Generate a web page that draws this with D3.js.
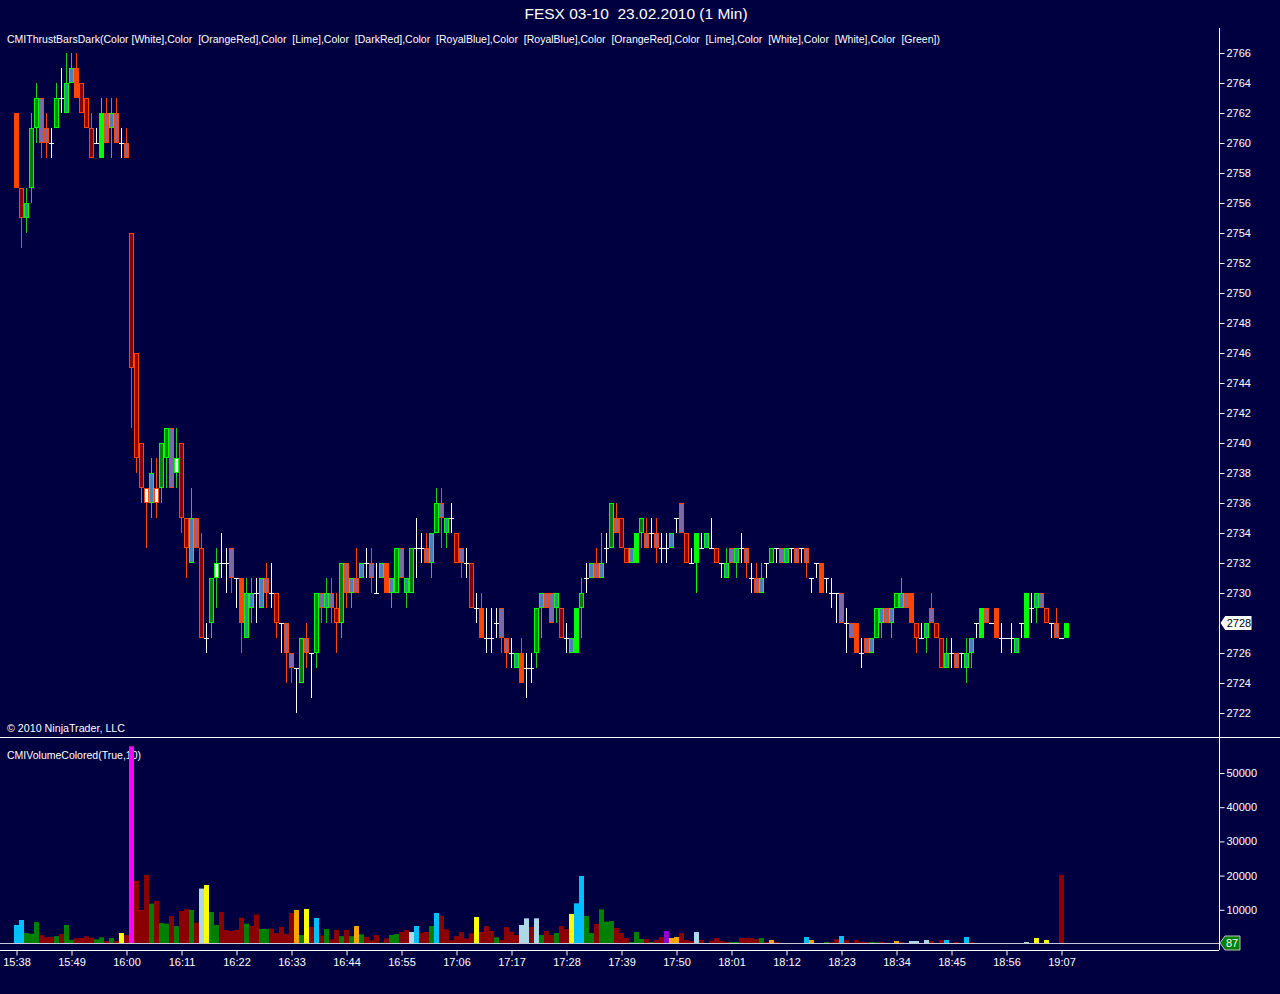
<!DOCTYPE html>
<html><head><meta charset="utf-8">
<script src="https://cdn.jsdelivr.net/npm/d3@7"></script>
<style>
html,body{margin:0;padding:0;background:#000040;}
svg{display:block;}
text{font-family:"Liberation Sans",Arial,sans-serif;}
</style></head><body>
<svg id="c" width="1280" height="994"></svg>
<script>
// ---- DATA (1-minute bars, FESX 03-10, 23.02.2010, starting 15:38) ----
const opens  = [2762,2757,2755,2757,2761,2763,2761,2760,2761,2763,2762,2764,2765,2764,2763,2761,2760,2759,2762,2761,2762,2760,2760,
2754,2746,2740,2737,2736,2737,2737,2739,2741,2738,2740,2735,2732,2735,2733,2727,2728,2731,2732,2732,2733,2731,2731,2727,2729,2730,2729,2731,2730,2730,2728,2728,2726,2725,2724,2727,2726,2726,
2730,2729,2730,2729,2728,2732,2730,2731,2731,2732,2732,2730,2731,2732,2730,2730,2733,2730,2730,2733,2733,2733,2732,2734,2736,2734,2735,2734,2733,2732,2732,2729,2729,2727,2727,2728,2729,2727,2726,2725,
2726,2725,2725,2726,2729,2730,2730,2729,2729,2727,2726,2726,2729,2731,2731,2732,2731,2733,2733,2735,2735,2733,2732,2732,2734,2734,2734,2734,2733,2733,2733,2735,2736,2734,2732,2732,2733,2733,2733,2733,
2732,2731,2733,2732,2733,2733,2731,2731,2730,2732,2732,2733,2733,2732,2733,2733,2733,2733,2731,2732,2732,2731,2730,2730,2730,2728,2728,2728,2726,2727,2726,2727,2728,2729,2728,2729,2729,2730,2730,2728,
2727,2727,2729,2728,2727,2725,2726,2726,2726,2725,2726,2728,2727,2729,2728,2729,2727,2727,2727,2726,2728,2727,2729,2729,2730,2729,2728,2728,2727,2727];
const highs  = [2762,2757,2757,2762,2764,2763,2762,2761,2764,2765,2766,2766,2766,2764,2763,2762,2761,2763,2763,2763,2763,2761,2761,
2754,2746,2740,2737,2739,2739,2740,2741,2741,2741,2740,2735,2737,2735,2734,2728,2731,2733,2734,2733,2733,2731,2731,2731,2731,2731,2731,2732,2732,2730,2728,2728,2726,2725,2727,2728,2726,2730,
2730,2731,2731,2730,2732,2732,2731,2733,2732,2733,2733,2732,2732,2732,2731,2733,2733,2731,2733,2735,2734,2734,2734,2737,2737,2735,2736,2734,2733,2733,2732,2730,2730,2729,2729,2729,2729,2727,2727,2726,
2727,2726,2726,2729,2730,2730,2730,2730,2729,2728,2727,2729,2731,2732,2732,2733,2734,2734,2736,2736,2735,2733,2733,2734,2735,2735,2735,2735,2734,2734,2734,2735,2736,2734,2733,2734,2734,2734,2735,2733,
2732,2733,2733,2733,2734,2733,2732,2732,2732,2732,2733,2733,2733,2733,2733,2733,2733,2733,2731,2732,2732,2731,2731,2730,2730,2729,2728,2728,2727,2727,2727,2729,2729,2729,2729,2730,2731,2730,2730,2728,
2728,2728,2730,2728,2727,2727,2727,2726,2726,2727,2727,2728,2729,2729,2728,2729,2728,2727,2728,2727,2728,2730,2730,2730,2730,2729,2728,2729,2727,2728];
const lows   = [2757,2753,2754,2756,2760,2759,2759,2759,2761,2762,2762,2764,2763,2762,2761,2759,2760,2759,2760,2759,2760,2759,2759,
2741,2738,2736,2733,2735,2735,2736,2737,2737,2737,2734,2731,2732,2733,2727,2726,2727,2729,2731,2730,2730,2729,2726,2727,2728,2728,2729,2729,2729,2727,2726,2724,2724,2722,2724,2725,2723,2725,
2728,2728,2728,2726,2727,2729,2729,2730,2731,2731,2730,2730,2731,2730,2729,2730,2731,2729,2730,2731,2732,2732,2731,2734,2733,2733,2734,2732,2731,2731,2729,2728,2727,2726,2726,2727,2726,2725,2725,2725,
2724,2723,2724,2725,2727,2729,2728,2728,2727,2726,2726,2726,2727,2730,2731,2731,2731,2732,2733,2734,2733,2732,2732,2732,2733,2733,2733,2732,2732,2732,2733,2734,2734,2732,2732,2730,2733,2733,2733,2732,
2731,2731,2732,2731,2732,2731,2730,2730,2730,2731,2732,2732,2732,2732,2732,2732,2732,2731,2730,2731,2730,2730,2729,2728,2728,2726,2727,2726,2725,2726,2726,2727,2727,2728,2727,2729,2729,2729,2728,2726,
2727,2726,2728,2727,2725,2725,2725,2725,2725,2724,2725,2727,2727,2728,2728,2727,2726,2727,2726,2726,2727,2727,2728,2728,2729,2728,2727,2727,2727,2727];
const closes = [2757,2755,2756,2761,2763,2760,2760,2760,2763,2763,2764,2765,2763,2762,2761,2759,2760,2762,2760,2762,2760,2760,2759,
2745,2739,2737,2736,2738,2736,2740,2741,2737,2739,2735,2733,2735,2733,2727,2727,2731,2732,2732,2732,2731,2731,2728,2730,2730,2730,2731,2730,2730,2728,2728,2726,2725,2725,2727,2726,2726,2730,
2729,2730,2729,2728,2732,2730,2731,2730,2732,2732,2731,2730,2732,2730,2731,2733,2731,2731,2733,2733,2733,2732,2734,2736,2735,2735,2735,2732,2732,2732,2729,2729,2727,2727,2727,2728,2727,2726,2726,2726,
2724,2725,2725,2729,2730,2729,2728,2730,2727,2727,2727,2729,2730,2731,2732,2731,2732,2733,2736,2734,2733,2732,2733,2734,2735,2733,2734,2733,2733,2733,2734,2735,2734,2732,2732,2734,2733,2734,2733,2732,
2732,2732,2732,2733,2733,2732,2731,2730,2731,2732,2733,2733,2732,2733,2733,2732,2733,2732,2731,2732,2730,2731,2730,2730,2728,2728,2727,2726,2726,2726,2727,2729,2729,2728,2729,2730,2730,2729,2728,2727,
2727,2728,2728,2727,2725,2726,2726,2725,2726,2726,2727,2728,2729,2728,2728,2727,2727,2727,2727,2727,2728,2730,2729,2730,2729,2728,2728,2727,2727,2728];
// bar classes of the thrust-bar study (10 per group): D down-thrust, d down, p down-inside, W down-white,
// U up-thrust, u up, b up-inside, w up-white, x doji
const barKinds = [
 "Ddbuuppxux","bbDdddxUpb","pxpdddWbWu","upwddbpdxu","wxxpxDbbxb","pxdxppxupx",
 "upbpdupbpb","xpxbDbupbu","xxpbupbxdp","xdxDxxxppx","bDxxubppbd","xbUuxbpbxu",
 "pddbUupxpx","xbxpdxUxbx","dxbpbxpxpb","xuxpbxpxpx","xDxxxpxpDx","pbubpbubpD",
 "dxbpddbxpx","bbxUpxDxxx","bxUxbpdxpx","U"].join("").split("");
const volumes = [5560,7020,3200,3000,6400,2600,2000,2000,2300,2900,5560,1200,1650,1750,2250,1850,1350,1950,900,1750,900,3200,2600,
57800,18500,9950,20200,11800,12600,6150,5950,8200,5250,9650,10150,9950,6250,16200,17250,9350,5560,9350,4100,3800,4100,7700,5950,5250,8600,4400,4400,4500,3200,5000,3000,9050,9950,2600,10250,5000,7600,
2500,4400,1350,4100,2300,4100,2300,5250,2800,2050,1070,2630,400,1650,2630,2900,3500,4100,3500,5260,3300,3500,5260,9070,8200,4300,1070,2340,3500,1650,3100,7900,3500,5260,3800,1950,1170,4970,3600,2630,
5560,7500,4970,7500,2630,3800,2630,3200,5260,4400,8780,11900,19900,8200,3200,5850,10140,6530,6730,4680,3200,1750,590,3500,1460,1460,590,1170,2050,3800,1750,2050,3200,1170,880,3500,1170,300,975,1750,
880,680,590,590,1750,1750,1750,1360,1750,590,1170,590,200,300,200,200,300,2050,1170,300,300,590,490,1360,2340,1170,390,1170,680,590,590,490,680,390,300,880,590,300,880,880,
300,1170,880,300,1170,1170,300,590,300,2050,590,300,300,200,200,200,200,100,100,100,100,590,200,1750,200,1170,300,100,20200,87];
// volume colour classes (10 per group): r dark red, g green, s deep sky blue, l light blue, y yellow, o orange, m magenta, v violet
const volumeKinds = [
 "ssgggrrrgr","ggrrrrggrg","ryrmrrrgrg","grgrrgrlyg","grrrrrgrrg","grrrrrogyr",
 "srgrrgrgog","rrrgrggrrl","srrgsrrrrr","rryrrrgrrr","rllrlgrrgr","ryssggrggg",
 "rrrgggrgrr","voorrrlrrr","rrrggrrrrg","rorrgrrrso","rrgrrsrrrr","rggrrrorrl",
 "lrlrrrsrrg","srggrrrrrr","rrlryryrrr","g"].join("").split("");
const timeLabels = ["15:38","15:49","16:00","16:11","16:22","16:33","16:44","16:55","17:06","17:17","17:28","17:39","17:50","18:01","18:12","18:23","18:34","18:45","18:56","19:07"];
const priceTicks = d3.range(2722, 2767, 2);
const volumeTicks = [10000,20000,30000,40000,50000];
const titleText = "FESX 03-10  23.02.2010 (1 Min)";
const studyText = "CMIThrustBarsDark(Color [White],Color  [OrangeRed],Color  [Lime],Color  [DarkRed],Color  [RoyalBlue],Color  [RoyalBlue],Color  [OrangeRed],Color  [Lime],Color  [White],Color  [White],Color  [Green])";

// ---- STYLE ----
const BG = "#000040";
const kindStyle = {
  D:{fill:"#ff4500",stroke:"#ff4500",wick:"#ff4500"},
  d:{fill:"#8b0000",stroke:"#ff4500",wick:"#ff4500"},
  p:{fill:"#7c6aa8",stroke:"#ff4500",wick:"#ff4500"},
  W:{fill:"#ffffff",stroke:"#ff4500",wick:"#ff4500"},
  U:{fill:"#00ff00",stroke:"#00ff00",wick:"#00ff00"},
  u:{fill:"#008000",stroke:"#00ff00",wick:"#22cc22"},
  b:{fill:"#4682b4",stroke:"#00ff00",wick:"#22cc22"},
  w:{fill:"#ffffff",stroke:"#00ff00",wick:"#22cc22"},
  x:{fill:"none",stroke:"#ffffff",wick:"#ffffff"}
};
const volColor = {r:"#8b0000",g:"#008000",s:"#00bfff",l:"#add8e6",y:"#ffff00",o:"#ffa500",m:"#ff00ff",v:"#9400d3"};

const N = opens.length;
const svg = d3.select("#c");
svg.append("rect").attr("width",1280).attr("height",994).attr("fill",BG);

const x = d3.scaleLinear().domain([0, N-1]).range([16.5, 16.5 + 5*(N-1)]);
const y = d3.scaleLinear().domain([2722, 2766]).range([713, 53]);
const yv = d3.scaleLinear().domain([0, 50000]).range([944, 773]);

const bars = d3.range(N).map(i => ({i, o:opens[i], h:highs[i], l:lows[i], c:closes[i], k:barKinds[i] || "x"}));

// title
svg.append("text").attr("x",636).attr("y",19).attr("text-anchor","middle")
  .attr("fill","#fff").attr("font-size",15.5).style("white-space","pre").text(titleText);

// frame lines
svg.append("line").attr("x1",1219.5).attr("x2",1219.5).attr("y1",28).attr("y2",950).attr("stroke","#fff");
svg.append("line").attr("x1",0).attr("x2",1280).attr("y1",737.5).attr("y2",737.5).attr("stroke","#fff");
svg.append("line").attr("x1",0).attr("x2",1219).attr("y1",950.5).attr("y2",950.5).attr("stroke","#fff");

// price pane
const gp = svg.append("g");
gp.selectAll("line.wick").data(bars).join("line").attr("class","wick")
  .attr("x1",d=>x(d.i)).attr("x2",d=>x(d.i))
  .attr("y1",d=>y(d.h)).attr("y2",d=>y(d.l) + (d.h===d.l?1:0))
  .attr("stroke",d=>kindStyle[d.k].wick).attr("stroke-width",1);
gp.selectAll("rect.body").data(bars.filter(d=>d.k!=="x")).join("rect").attr("class","body")
  .attr("x",d=>x(d.i)-2).attr("width",4)
  .attr("y",d=>y(Math.max(d.o,d.c))+0.5)
  .attr("height",d=>Math.max(1, y(Math.min(d.o,d.c)) - y(Math.max(d.o,d.c)) - 1))
  .attr("fill",d=>kindStyle[d.k].fill).attr("stroke",d=>kindStyle[d.k].stroke).attr("stroke-width",1);
gp.selectAll("line.doji").data(bars.filter(d=>d.k==="x")).join("line").attr("class","doji")
  .attr("x1",d=>x(d.i)-2.5).attr("x2",d=>x(d.i)+2.5)
  .attr("y1",d=>y(d.o)+0.5).attr("y2",d=>y(d.o)+0.5)
  .attr("stroke","#fff").attr("stroke-width",1);

// price axis
const pa = svg.append("g").attr("transform","translate(1219.5,0)")
  .call(d3.axisRight(y).tickValues(priceTicks).tickSize(5).tickSizeOuter(0).tickPadding(2).tickFormat(d3.format("d")));
pa.select(".domain").remove();
pa.selectAll("line").attr("stroke","#fff");
pa.selectAll("text").attr("fill","#fff").attr("font-size",11).attr("font-family","Liberation Sans, Arial, sans-serif");

// last price tag
const lastP = closes[N-1];
const ty = y(lastP);
svg.append("path").attr("d",`M1220,${ty} L1225,${ty-7.5} L1252,${ty-7.5} L1252,${ty+7.5} L1225,${ty+7.5} Z`)
  .attr("fill","#fff").attr("stroke","#000040");
svg.append("text").attr("x",1239).attr("y",ty).attr("dy","0.35em").attr("text-anchor","middle")
  .attr("fill","#000").attr("font-size",11).text(lastP);

// study labels
svg.append("text").attr("x",7).attr("y",43).attr("fill","#fff").attr("font-size",11)
  .attr("textLength",933).attr("lengthAdjust","spacingAndGlyphs")
  .style("white-space","pre").text(studyText);
svg.append("text").attr("x",7).attr("y",732).attr("fill","#fff").attr("font-size",11)
  .attr("textLength",118).attr("lengthAdjust","spacingAndGlyphs").text("\u00a9 2010 NinjaTrader, LLC");
svg.append("text").attr("x",7).attr("y",759).attr("fill","#fff").attr("font-size",11)
  .attr("textLength",134).attr("lengthAdjust","spacingAndGlyphs").text("CMIVolumeColored(True,10)");

// volume pane
const gv = svg.append("g");
gv.selectAll("rect.vol").data(bars).join("rect").attr("class","vol")
  .attr("x",d=>x(d.i)-2.5).attr("width",5)
  .attr("y",d=>yv(volumes[d.i])).attr("height",d=>yv(0)-yv(volumes[d.i]))
  .attr("fill",d=>volColor[volumeKinds[d.i]] || "#8b0000");
svg.append("line").attr("x1",0).attr("x2",1219).attr("y1",943.5).attr("y2",943.5).attr("stroke","#c8c8d8");

const va = svg.append("g").attr("transform","translate(1219.5,0)")
  .call(d3.axisRight(yv).tickValues(volumeTicks).tickSize(5).tickSizeOuter(0).tickPadding(2).tickFormat(d3.format("d")));
va.select(".domain").remove();
va.selectAll("line").attr("stroke","#fff");
va.selectAll("text").attr("fill","#fff").attr("font-size",11).attr("font-family","Liberation Sans, Arial, sans-serif");

// last volume tag
const lastV = volumes[N-1];
const vy = 943;
svg.append("path").attr("d",`M1220,${vy} L1225,${vy-7} L1240,${vy-7} L1240,${vy+7} L1225,${vy+7} Z`)
  .attr("fill","#008000").attr("stroke","#c0c0c0");
svg.append("text").attr("x",1232).attr("y",vy).attr("dy","0.35em").attr("text-anchor","middle")
  .attr("fill","#fff").attr("font-size",11).text(lastV);

// time axis
const ta = svg.append("g").attr("transform","translate(0,950.5)")
  .call(d3.axisBottom(x).tickValues(timeLabels.map((t,j)=>j*11)).tickSize(5).tickSizeOuter(0).tickFormat((d,j)=>timeLabels[j]));
ta.select(".domain").remove();
ta.selectAll("line").attr("stroke","#fff");
ta.selectAll("text").attr("fill","#fff").attr("font-size",11).attr("font-family","Liberation Sans, Arial, sans-serif");
</script>
</body></html>
